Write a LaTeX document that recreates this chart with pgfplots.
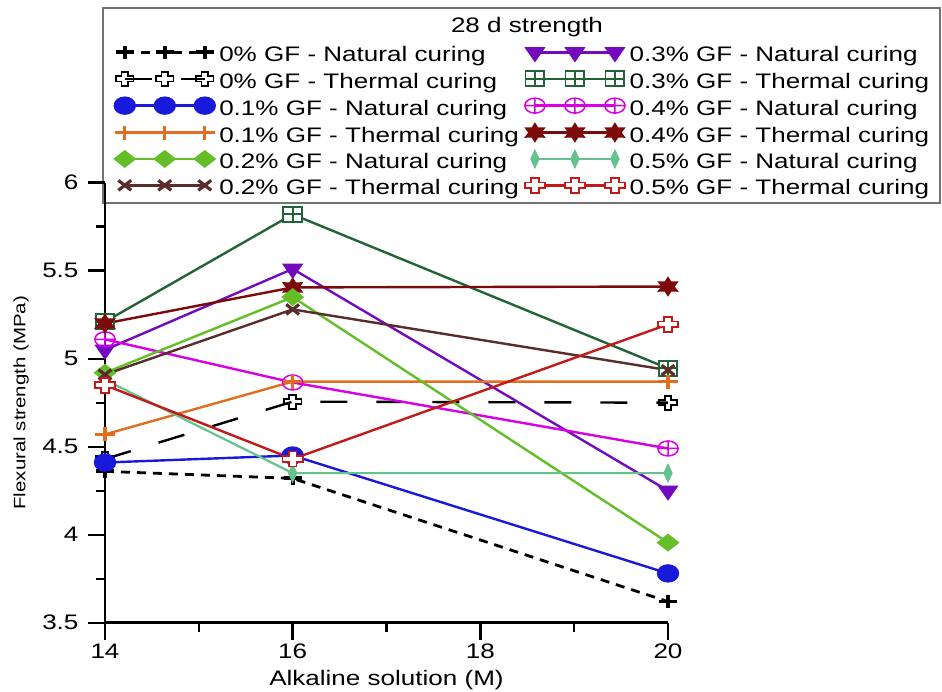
\documentclass[border=0pt]{standalone}
\usepackage{fontspec}
\setmainfont{Liberation Sans}[FakeStretch=1.24]
\usepackage{pgfplots}
\pgfplotsset{compat=1.18}

\definecolor{c01n}{RGB}{25,25,220}
\definecolor{c01t}{RGB}{225,110,30}
\definecolor{c02n}{RGB}{100,190,40}
\definecolor{c02t}{RGB}{90,45,45}
\definecolor{c03n}{RGB}{115,10,190}
\definecolor{c03t}{RGB}{35,100,55}
\definecolor{c04n}{RGB}{215,0,230}
\definecolor{c04t}{RGB}{125,10,10}
\definecolor{c05n}{RGB}{100,195,140}
\definecolor{c05t}{RGB}{195,25,25}

\pgfdeclareplotmark{ocross}{%
  \pgfpathmoveto{\pgfqpoint{-0.38\pgfplotmarksize}{\pgfplotmarksize}}%
  \pgfpathlineto{\pgfqpoint{0.38\pgfplotmarksize}{\pgfplotmarksize}}%
  \pgfpathlineto{\pgfqpoint{0.38\pgfplotmarksize}{0.38\pgfplotmarksize}}%
  \pgfpathlineto{\pgfqpoint{\pgfplotmarksize}{0.38\pgfplotmarksize}}%
  \pgfpathlineto{\pgfqpoint{\pgfplotmarksize}{-0.38\pgfplotmarksize}}%
  \pgfpathlineto{\pgfqpoint{0.38\pgfplotmarksize}{-0.38\pgfplotmarksize}}%
  \pgfpathlineto{\pgfqpoint{0.38\pgfplotmarksize}{-\pgfplotmarksize}}%
  \pgfpathlineto{\pgfqpoint{-0.38\pgfplotmarksize}{-\pgfplotmarksize}}%
  \pgfpathlineto{\pgfqpoint{-0.38\pgfplotmarksize}{-0.38\pgfplotmarksize}}%
  \pgfpathlineto{\pgfqpoint{-\pgfplotmarksize}{-0.38\pgfplotmarksize}}%
  \pgfpathlineto{\pgfqpoint{-\pgfplotmarksize}{0.38\pgfplotmarksize}}%
  \pgfpathlineto{\pgfqpoint{-0.38\pgfplotmarksize}{0.38\pgfplotmarksize}}%
  \pgfpathclose\pgfusepathqfillstroke}

\pgfdeclareplotmark{boxplus}{%
  \pgfpathrectangle{\pgfqpoint{-\pgfplotmarksize}{-\pgfplotmarksize}}{\pgfqpoint{2\pgfplotmarksize}{2\pgfplotmarksize}}%
  \pgfusepathqfillstroke
  \pgfpathmoveto{\pgfqpoint{-\pgfplotmarksize}{0pt}}\pgfpathlineto{\pgfqpoint{\pgfplotmarksize}{0pt}}%
  \pgfpathmoveto{\pgfqpoint{0pt}{-\pgfplotmarksize}}\pgfpathlineto{\pgfqpoint{0pt}{\pgfplotmarksize}}%
  \pgfusepathqstroke}

\pgfdeclareplotmark{hexstar}{%
  \pgfpathmoveto{\pgfpointpolar{90}{\pgfplotmarksize}}%
  \pgfpathlineto{\pgfpointpolar{120}{0.55\pgfplotmarksize}}%
  \pgfpathlineto{\pgfpointpolar{150}{\pgfplotmarksize}}%
  \pgfpathlineto{\pgfpointpolar{180}{0.55\pgfplotmarksize}}%
  \pgfpathlineto{\pgfpointpolar{210}{\pgfplotmarksize}}%
  \pgfpathlineto{\pgfpointpolar{240}{0.55\pgfplotmarksize}}%
  \pgfpathlineto{\pgfpointpolar{270}{\pgfplotmarksize}}%
  \pgfpathlineto{\pgfpointpolar{300}{0.55\pgfplotmarksize}}%
  \pgfpathlineto{\pgfpointpolar{330}{\pgfplotmarksize}}%
  \pgfpathlineto{\pgfpointpolar{0}{0.55\pgfplotmarksize}}%
  \pgfpathlineto{\pgfpointpolar{30}{\pgfplotmarksize}}%
  \pgfpathlineto{\pgfpointpolar{60}{0.55\pgfplotmarksize}}%
  \pgfpathclose\pgfusepathqfillstroke}

\begin{document}
\begin{tikzpicture}
\useasboundingbox (-105pt,-68.3pt) rectangle (837pt,622.7pt);
\draw[draw=black!55, line width=1.3pt, fill=white] (-2pt,419.7pt) rectangle (835pt,614.7pt);
\node[font=\fontsize{21}{25}\selectfont] at (422pt,595.7pt) {28 d strength};
\begin{axis}[
  at={(0pt,0pt)}, anchor=south west,
  scale only axis, width=563pt, height=440pt,
  xmin=14, xmax=20, ymin=3.5, ymax=6,
  axis x line=bottom, axis y line=left,
  axis line style={-, line width=2.6pt, black},
  xtick={14,16,18,20}, ytick={3.5,4,4.5,5,5.5,6},
  minor x tick num=1, minor y tick num=1,
  tick align=outside, major tick length=17pt, minor tick length=9pt,
  every tick/.style={black, line width=2.4pt},
  /pgf/number format/assume math mode=true,
  every x tick label/.append style={font=\fontsize{21}{25}\selectfont, anchor=north, yshift=-1pt},
  every y tick label/.append style={font=\fontsize{21}{25}\selectfont, anchor=east, xshift=-6pt},
  xlabel={Alkaline solution (M)}, ylabel={Flexural strength (MPa)},
  xlabel style={font=\fontsize{21}{25}\selectfont, at={(axis description cs:0.5,-0.131)}, anchor=center},
  ylabel style={font=\fontsize{16.5}{19}\selectfont, at={(axis description cs:-0.149,0.5)}, anchor=center},
  clip=false,
  legend columns=2, legend cell align=left,
  legend style={draw=none, fill=none, at={(axis description cs:0.017,1.3115)}, anchor=north west,
    inner sep=0pt, row sep=4.4pt, font=\fontsize{21}{25}\selectfont,
    nodes={inner sep=1pt, text height=15pt, text depth=4pt},
    /tikz/every odd column/.append style={column sep=3.5pt},
    /tikz/every even column/.append style={column sep=5pt}},
  legend image code/.code={\draw plot coordinates {(0pt,4pt) (40pt,4pt) (80pt,4pt)};},
]
\addplot[black, line width=2.8pt, dash pattern=on 9pt off 7pt, mark=+, mark size=6.5, mark options={solid, line width=3.8pt, xscale=1.4}] coordinates {(14,4.36) (16,4.32) (20,3.62)};
\addlegendentry{0\% GF - Natural curing}
\addplot[c03n, line width=2.4pt, mark=triangle*, mark size=8, mark options={solid, rotate=180, xscale=1.2, fill=c03n}] coordinates {(14,5.05) (16,5.51) (20,4.25)};
\addlegendentry{0.3\% GF - Natural curing}
\addplot[black, line width=2.4pt, dash pattern=on 27pt off 29pt, mark=ocross, mark size=7, mark options={solid, line width=1.8pt, xscale=1.25, fill opacity=0}] coordinates {(14,4.43) (16,4.756) (20,4.75)};
\addlegendentry{0\% GF - Thermal curing}
\addplot[c03t, line width=2.4pt, mark=boxplus, mark size=7.5, mark options={solid, fill=white, line width=1.8pt, xscale=1.25}] coordinates {(14,5.21) (16,5.82) (20,4.945)};
\addlegendentry{0.3\% GF - Thermal curing}
\addplot[c01n, line width=2.4pt, mark=*, mark size=8, mark options={solid, fill=c01n, xscale=1.25}] coordinates {(14,4.41) (16,4.45) (20,3.78)};
\addlegendentry{0.1\% GF - Natural curing}
\addplot[c04n, line width=2.4pt, mark=oplus, mark size=7.5, mark options={solid, fill=white, line width=1.5pt, xscale=1.35}] coordinates {(14,5.11) (16,4.865) (20,4.49)};
\addlegendentry{0.4\% GF - Natural curing}
\addplot[c01t, line width=2.4pt, mark=+, mark size=7, mark options={solid, line width=3.4pt, xscale=1.4}] coordinates {(14,4.57) (16,4.87) (20,4.87)};
\addlegendentry{0.1\% GF - Thermal curing}
\addplot[c04t, line width=2.4pt, mark=hexstar, mark size=8, mark options={solid, fill=c04t, xscale=1.2}] coordinates {(14,5.20) (16,5.405) (20,5.41)};
\addlegendentry{0.4\% GF - Thermal curing}
\addplot[c02n, line width=2.4pt, mark=diamond*, mark size=7.5, mark options={solid, fill=c02n, xscale=1.7}] coordinates {(14,4.92) (16,5.35) (20,3.955)};
\addlegendentry{0.2\% GF - Natural curing}
\addplot[c05n, line width=2.2pt, mark=diamond*, mark size=7.5, mark options={solid, fill=c05n, xscale=0.62}] coordinates {(14,4.88) (16,4.35) (20,4.35)};
\addlegendentry{0.5\% GF - Natural curing}
\addplot[c02t, line width=2.4pt, mark=x, mark size=7, mark options={solid, line width=3.2pt, xscale=1.3}] coordinates {(14,4.91) (16,5.28) (20,4.935)};
\addlegendentry{0.2\% GF - Thermal curing}
\addplot[c05t, line width=2.4pt, mark=ocross, mark size=7.5, mark options={solid, fill=white, line width=1.8pt, xscale=1.35}] coordinates {(14,4.85) (16,4.43) (20,5.195)};
\addlegendentry{0.5\% GF - Thermal curing}
\end{axis}
\end{tikzpicture}
\end{document}
